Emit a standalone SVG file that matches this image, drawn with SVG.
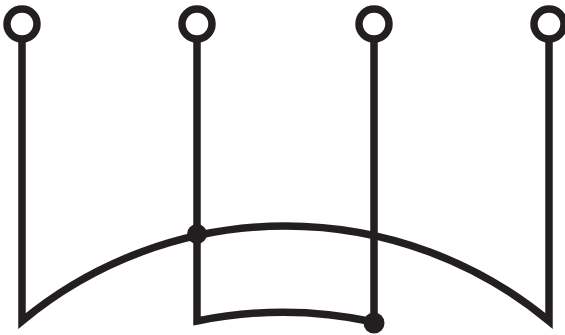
<svg xmlns="http://www.w3.org/2000/svg" width="565" height="335" viewBox="0 0 565 335">
<style>
.wire{fill:none;stroke:#231f20;stroke-width:7.5;stroke-linejoin:miter;stroke-miterlimit:10}
.term{fill:#fff;stroke:#231f20;stroke-width:7.5}
.dot{fill:#231f20}
</style>
<rect width="565" height="335" fill="#fff"/>
<g id="connectors">
<path class="wire" d="M22,40 V321 A413,413 0 0 1 549,321 V40"/>
<path class="wire" d="M197,40 V321 A430,430 0 0 1 374,322 V40"/>
</g>
<g id="t1"><circle class="term" cx="22" cy="24" r="15"/></g>
<g id="t2"><circle class="term" cx="197" cy="24" r="15"/></g>
<g id="t3"><circle class="term" cx="374" cy="24" r="15"/></g>
<g id="t4"><circle class="term" cx="549" cy="24" r="15"/></g>
<g id="j1"><circle class="dot" cx="197" cy="234" r="10"/></g>
<g id="j2"><circle class="dot" cx="374" cy="323" r="10.5"/></g>
</svg>
